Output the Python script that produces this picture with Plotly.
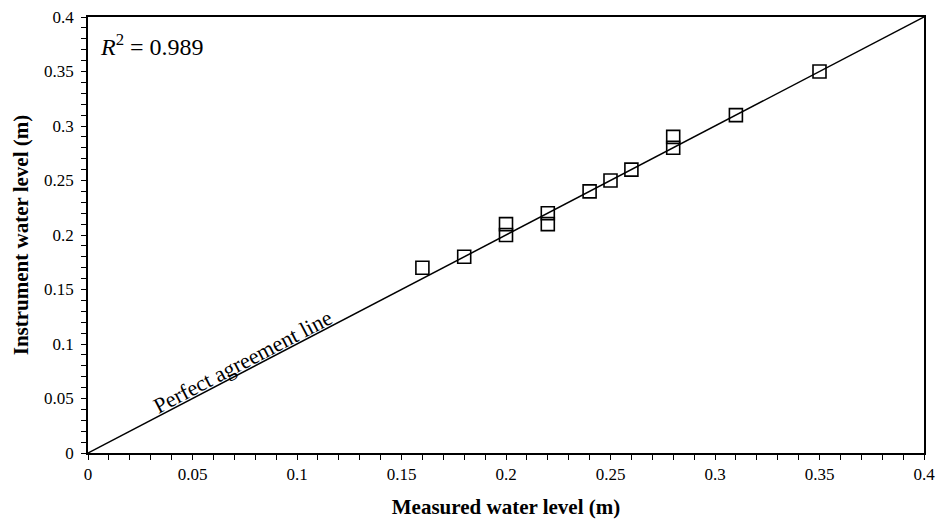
import plotly.graph_objects as go

measured = [0.16, 0.18, 0.20, 0.20, 0.22, 0.22, 0.24, 0.25, 0.26, 0.28, 0.28, 0.31, 0.35]
instrument = [0.17, 0.18, 0.20, 0.21, 0.21, 0.22, 0.24, 0.25, 0.26, 0.28, 0.29, 0.31, 0.35]
line_x = [0, 0.4]
line_y = [0, 0.4]
tick_vals = [0, 0.05, 0.1, 0.15, 0.2, 0.25, 0.3, 0.35, 0.4]
tick_text = ["0", "0.05", "0.1", "0.15", "0.2", "0.25", "0.3", "0.35", "0.4"]
r2_text = "0.989"

FONT = "Liberation Serif, Times New Roman, serif"

fig = go.Figure()
fig.add_trace(go.Scatter(x=line_x, y=line_y, mode="lines",
                         line=dict(color="black", width=1.5), hoverinfo="skip"))
fig.add_trace(go.Scatter(x=measured, y=instrument, mode="markers",
                         marker=dict(symbol="square-open", size=13, color="black",
                                     line=dict(width=1.6, color="black"))))

axis_common = dict(
    range=[0, 0.4], tickvals=tick_vals, ticktext=tick_text, automargin=False,
    showgrid=False, zeroline=False, showline=True, linecolor="black", linewidth=1.5,
    mirror=True, ticks="outside", ticklen=5, tickwidth=1.2, tickcolor="black",
    minor=dict(dtick=0.01, tick0=0, ticks="outside", ticklen=5, tickwidth=1.2, tickcolor="black"),
    tickfont=dict(family=FONT, size=17, color="black"),
)

fig.update_layout(
    width=939, height=521,
    margin=dict(l=88, r=15, t=17, b=68),
    paper_bgcolor="white", plot_bgcolor="white",
    showlegend=False,
    xaxis=dict(**axis_common,
               title=dict(text="<b>Measured water level (m)</b>",
                          font=dict(family=FONT, size=21, color="black"), standoff=16)),
    yaxis=dict(**axis_common, ticklabelstandoff=4,
               title=dict(text="<b>Instrument water level (m)</b>",
                          font=dict(family=FONT, size=21, color="black"), standoff=10)),
    annotations=[
        dict(x=0.005, y=0.374, xref="x", yref="y", xanchor="left", yanchor="middle",
             text="<i>R</i><sup>2</sup> = " + r2_text, showarrow=False,
             font=dict(family=FONT, size=24, color="black")),
        dict(x=0.0742, y=0.0835, xref="x", yref="y", xanchor="center", yanchor="middle",
             text="Perfect agreement line", textangle=-27.5, showarrow=False,
             font=dict(family=FONT, size=22, color="black")),
    ],
)

fig.write_html("out.html")
